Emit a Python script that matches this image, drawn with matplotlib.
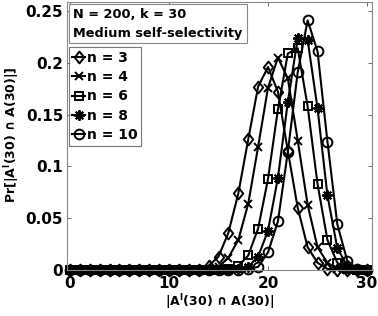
import numpy as np
import matplotlib
matplotlib.use("Agg")
import matplotlib.pyplot as plt
from matplotlib.patches import Rectangle
from matplotlib.path import Path

plt.rcParams['font.family'] = ['DejaVu Sans']
plt.rcParams['font.weight'] = 'bold'
plt.rcParams['mathtext.fontset'] = 'dejavusans'

x = list(range(0, 31))

# non-zero probabilities (others are 0)
p_n3 = {14: 0.004, 15: 0.013, 16: 0.036, 17: 0.074, 18: 0.126, 19: 0.177, 20: 0.196,
        21: 0.172, 22: 0.115, 23: 0.060, 24: 0.022, 25: 0.007, 26: 0.001}
p_n4 = {15: 0.003, 16: 0.012, 17: 0.029, 18: 0.064, 19: 0.119, 20: 0.176, 21: 0.205,
        22: 0.185, 23: 0.125, 24: 0.063, 25: 0.022, 26: 0.007, 27: 0.001}
p_n6 = {16: 0.001, 17: 0.004, 18: 0.014, 19: 0.040, 20: 0.088, 21: 0.155, 22: 0.209,
        23: 0.214, 24: 0.158, 25: 0.083, 26: 0.029, 27: 0.007, 28: 0.001}
p_n8 = {17: 0.001, 18: 0.003, 19: 0.013, 20: 0.038, 21: 0.089, 22: 0.162, 23: 0.224,
        24: 0.222, 25: 0.156, 26: 0.072, 27: 0.021, 28: 0.004}
p_n10 = {18: 0.001, 19: 0.003, 20: 0.017, 21: 0.047, 22: 0.114, 23: 0.191, 24: 0.241,
         25: 0.211, 26: 0.124, 27: 0.044, 28: 0.009, 29: 0.001}

series = [("n = 3", p_n3), ("n = 4", p_n4), ("n = 6", p_n6), ("n = 8", p_n8), ("n = 10", p_n10)]

diamond = Path([(0, 1), (0.8, 0), (0, -1), (-0.8, 0), (0, 1)],
               [Path.MOVETO, Path.LINETO, Path.LINETO, Path.LINETO, Path.CLOSEPOLY])
markers = [(diamond, 8.5), ('x', 6), ('s', 6), ((8, 2, 0), 7.5), ('o', 7)]

fig = plt.figure(figsize=(3.78, 3.16), dpi=100)
ax = fig.add_axes([67.3/378, 1-270/316, (372-67.3)/378, (270-2)/316])

for (label, d), (m, ms) in zip(series, markers):
    y = [d.get(v, 0.0) for v in x]
    ax.plot(x, y, color='black', lw=1.5, marker=m, ms=ms, mfc='none', mew=1.4, label=label,
            clip_on=False)

ax.set_xlim(-0.27, 30.5)
ax.set_ylim(0, 0.2587)
ax.set_xticks([0, 10, 20, 30])
ax.set_yticks([0, 0.05, 0.1, 0.15, 0.2, 0.25])
ax.set_yticklabels(['0', '0.05', '0.1', '0.15', '0.2', '0.25'])
ax.tick_params(direction='in', length=3, width=0.6, color='#555555', top=True, right=True,
               labelsize=11, pad=3)
ax.tick_params(axis='x', pad=4)
for lab in ax.get_xticklabels() + ax.get_yticklabels():
    lab.set_fontweight('bold')
for s in ax.spines.values():
    s.set_color('#888888')
    s.set_linewidth(0.8)

fig.text(219.5/378, 1-302/316, r'|A$^{\mathbf{I}}$(30) ∩ A(30)|', ha='center', va='center',
         fontsize=9, fontweight='bold')
fig.text(12/378, 1-135/316, r'Pr[|A$^{\mathbf{I}}$(30) ∩ A(30)|]', ha='center', va='center',
         rotation=90, fontsize=9, fontweight='bold')

# info box
fig.patches.append(Rectangle((68.5/378, 1-43/316), (247-68.5)/378, (43-4)/316,
                             transform=fig.transFigure, fill=True, facecolor='white',
                             edgecolor='#888888', lw=0.8, zorder=5))
fig.text(73/378, 1-15/316, 'N = 200, k = 30', ha='left', va='center', fontsize=9.3,
         fontweight='bold', zorder=6)
fig.text(73/378, 1-33/316, 'Medium self-selectivity', ha='left', va='center', fontsize=9.3,
         fontweight='bold', zorder=6)

leg = ax.legend(loc='upper left', bbox_to_anchor=(68.5/378, 1-47/316),
                bbox_transform=fig.transFigure, prop={'size': 10, 'weight': 'bold'},
                frameon=True, fancybox=False, handlelength=0.9, handletextpad=0.15,
                labelspacing=0.38, borderpad=0.28, borderaxespad=0)
leg.get_frame().set_edgecolor('#555555')
leg.get_frame().set_linewidth(0.8)

fig.savefig('out.png', dpi=100)
